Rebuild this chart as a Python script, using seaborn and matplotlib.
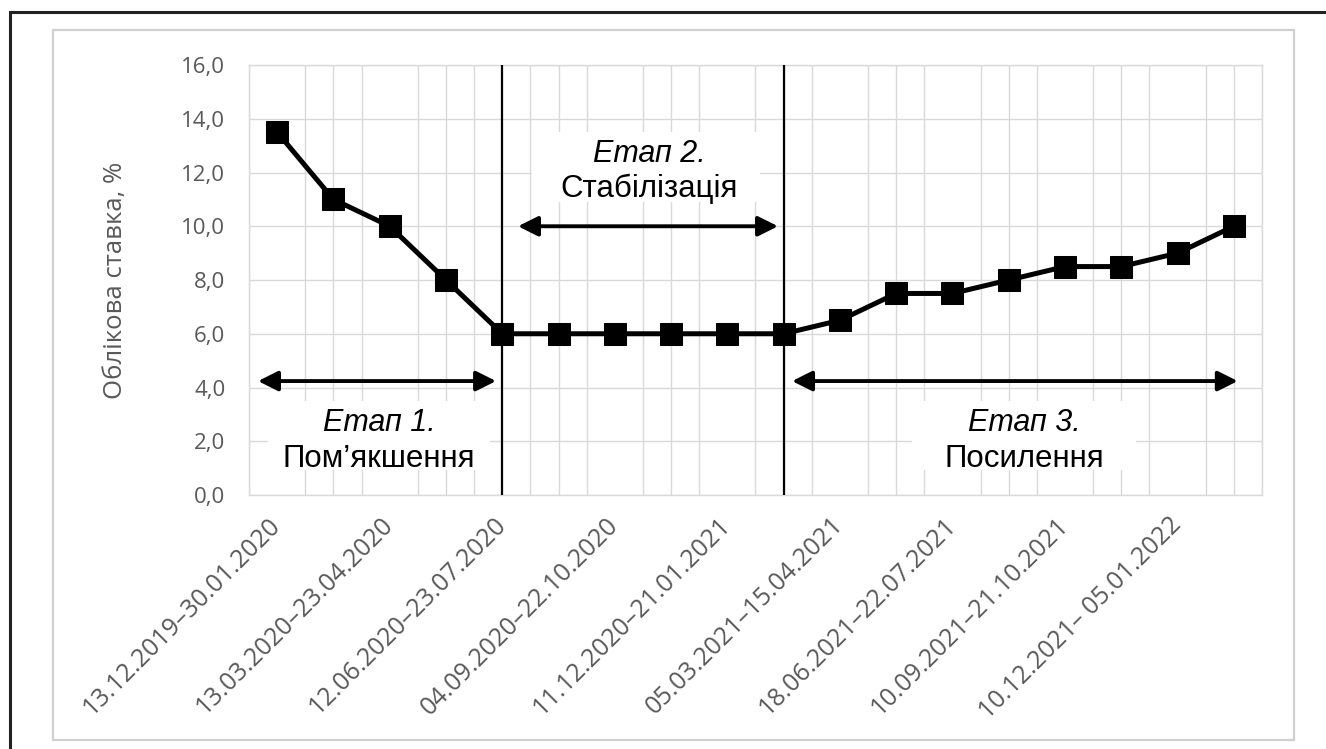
import numpy as np
import pandas as pd
import matplotlib.pyplot as plt
import matplotlib.patches as mpatches
from matplotlib.ticker import FuncFormatter
import seaborn as sns

# ── data ────────────────────────────────────────────────────────────────────
periods = [
    "13.12.2019–30.01.2020", "31.01.2020–12.03.2020",
    "13.03.2020–23.04.2020", "24.04.2020–11.06.2020",
    "12.06.2020–23.07.2020", "24.07.2020–03.09.2020",
    "04.09.2020–22.10.2020", "23.10.2020–10.12.2020",
    "11.12.2020–21.01.2021", "22.01.2021–04.03.2021",
    "05.03.2021–15.04.2021", "16.04.2021–17.06.2021",
    "18.06.2021–22.07.2021", "23.07.2021–09.09.2021",
    "10.09.2021–21.10.2021", "22.10.2021–09.12.2021",
    "10.12.2021– 05.01.2022", "06.01.2022–20.01.2022",
]
rate = [13.5, 11.0, 10.0, 8.0, 6.0, 6.0, 6.0, 6.0, 6.0,
        6.0, 6.5, 7.5, 7.5, 8.0, 8.5, 8.5, 9.0, 10.0]

stage_titles = ["Етап 1.", "Етап 2.", "Етап 3."]
stage_names = ["Пом’якшення", "Стабілізація", "Посилення"]
stage_bounds = [4, 9]  # boundaries between stages (category index)

GRID = "#d9d9d9"
TXT = "#595959"

df = pd.DataFrame({"idx": np.arange(len(periods)), "period": periods, "rate": rate})

sns.set_theme(style="white")
plt.rcParams["font.family"] = ["Open Sans", "DejaVu Sans"]

fig = plt.figure(figsize=(13.26, 7.49), dpi=100)
ax = fig.add_axes([0.1878, 0.3391, 0.9517 - 0.1878, 0.9132 - 0.3391])

# frames around the chart
fig.add_artist(mpatches.Rectangle((0.04, 0.012), 0.936, 0.948, transform=fig.transFigure,
                                  fill=False, ec="#d0d0d0", lw=1.6))
fig.add_artist(mpatches.Rectangle((0.0075, -0.1), 1.2, 1.084, transform=fig.transFigure,
                                  fill=False, ec="#222222", lw=2.2))

sns.lineplot(data=df, x="idx", y="rate", ax=ax, color="black", lw=3.6,
             marker="s", markersize=16, markeredgecolor="black", zorder=5)

ax.set_xlim(-0.5, len(periods) - 0.5)
ax.set_ylim(0, 16)
ax.set_yticks(np.arange(0, 17, 2))
ax.yaxis.set_major_formatter(FuncFormatter(lambda v, _: f"{v:.1f}".replace(".", ",")))
ax.set_xticks(df["idx"][::2])
ax.set_xticklabels(df["period"][::2], rotation=45, ha="right", va="center",
                   rotation_mode="anchor")
ax.set_xticks(np.arange(-0.5, len(periods), 0.5), minor=True)
ax.tick_params(axis="x", which="both", length=0, pad=19, labelsize=18, labelcolor=TXT)
ax.tick_params(axis="y", length=0, pad=17, labelsize=16, labelcolor=TXT)
ax.grid(axis="y", color=GRID, lw=1)
ax.grid(axis="x", which="minor", color=GRID, lw=1)
ax.set_axisbelow(True)
for s in ax.spines.values():
    s.set_color(GRID)
    s.set_linewidth(1)

ax.set_xlabel("")
ax.set_ylabel("Облікова ставка, %", fontsize=18.5, color=TXT)
ax.yaxis.set_label_coords(-0.119, 0.5)

# stage boundaries
for b in stage_bounds:
    ax.axvline(b, color="black", lw=1.6, zorder=4)

# stage arrows and captions (annotation positions in data coords)
arrow_spans = [(-0.34, 3.89, 4.24), (4.28, 8.90, 10.0), (9.15, 17.07, 4.24)]
box_spans = [(-0.16, 3.78, 0.93, 3.5), (4.53, 8.58, 10.9, 13.5), (11.28, 15.26, 0.93, 3.5)]
text_pos = [(1.81, 2.68, 1.34), (6.61, 12.69, 11.39), (13.27, 2.68, 1.34)]

for (x0, x1, y), (bx0, bx1, by0, by1), (tx, ty1, ty2), t, n in zip(
        arrow_spans, box_spans, text_pos, stage_titles, stage_names):
    ax.add_patch(mpatches.Rectangle((bx0, by0), bx1 - bx0, by1 - by0,
                                    fc="white", ec="none", zorder=2))
    ax.annotate("", xy=(x1, y), xytext=(x0, y),
                arrowprops=dict(arrowstyle="<|-|>,head_length=1.0,head_width=0.5",
                                color="black", lw=2.8, shrinkA=0, shrinkB=0), zorder=6)
    ax.text(tx, ty1, t, ha="center", va="center", fontsize=22, style="italic",
            family="Liberation Sans", color="black", zorder=3)
    ax.text(tx, ty2, n, ha="center", va="center", fontsize=22.5,
            family="Liberation Sans", color="black", zorder=3)

fig.savefig("out.png", dpi=100, facecolor="white")
